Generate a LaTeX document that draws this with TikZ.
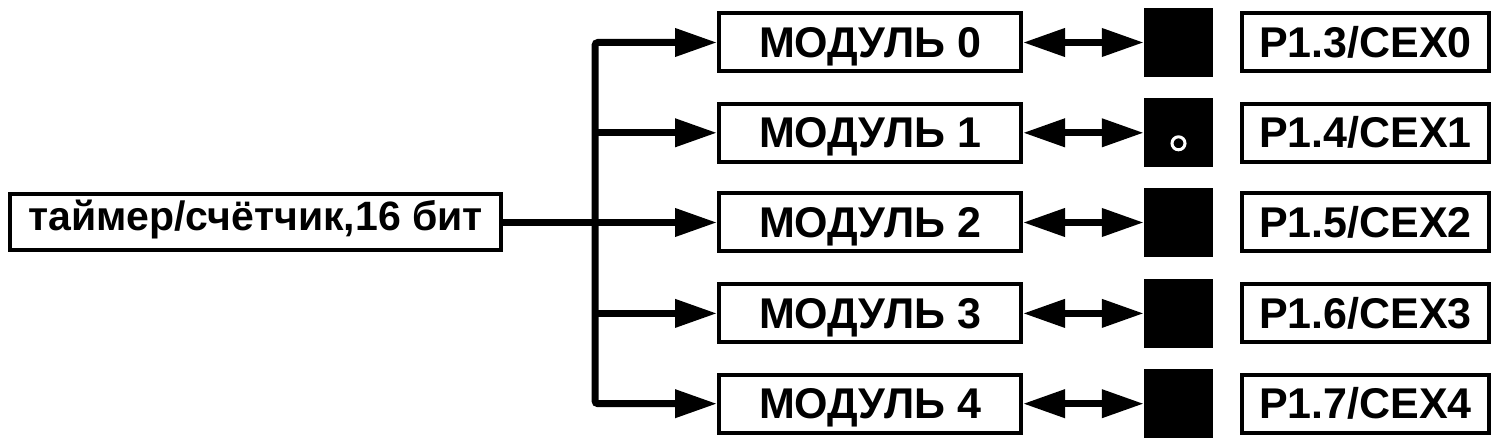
\documentclass[tikz,border=0pt]{standalone}
\usepackage{fontspec}
\setmainfont{Liberation Sans}
\usetikzlibrary{arrows.meta}
\tikzset{
  box/.style={draw, line width=4pt, rectangle, inner sep=0pt, text height=30pt, text depth=0pt, font=\fontsize{43}{46}\selectfont\bfseries},
  modbox/.style={box, minimum width=302pt, minimum height=58pt},
  pinbox/.style={box, minimum width=247pt, minimum height=58pt},
  sq/.style={fill=black, draw=none, minimum width=69pt, minimum height=69pt, inner sep=0pt},
  wire/.style={line width=7pt},
  Tri/.tip={Triangle[length=42pt,width=27pt]},
}
\begin{document}
\begin{tikzpicture}[x=1pt,y=-1pt]
\useasboundingbox[fill=white] (0,0) rectangle (1497,446);
\node[box, minimum width=491pt, minimum height=56pt, text height=24pt, text depth=7pt, font=\fontsize{41}{44}\selectfont\bfseries] (lb) at (255.5,222.5) {таймер/счётчик,16 бит};
\foreach \i/\y/\p in {0/42.5/3, 1/132.8/4, 2/222.5/5, 3/313.4/6, 4/403.7/7} {
  \node[modbox] (m\i) at (870,\y) {МОДУЛЬ \i};
  \node[sq] (s\i) at (1178.5,\y) {};
  \node[pinbox] (p\i) at (1365.5,\y) {P1.\p/CEX\i};
  \coordinate (b\i) at (595,\y);
  \draw[wire,{Tri}-{Tri}] (m\i.east) -- (s\i.west);
}
\draw[wire,{Tri}-{Tri}, rounded corners=3pt] (m0.west) -- (b0) -- (b4) -- (m4.west);
\draw[wire,-{Tri}] (b1) -- (m1.west);
\draw[wire,-{Tri}] (b3) -- (m3.west);
\draw[wire,-{Tri}] (lb.east) -- (m2.west);
\draw[white, line width=3pt] ([yshift=-10.5pt]s1.center) circle (6.5pt);
\end{tikzpicture}
\end{document}
